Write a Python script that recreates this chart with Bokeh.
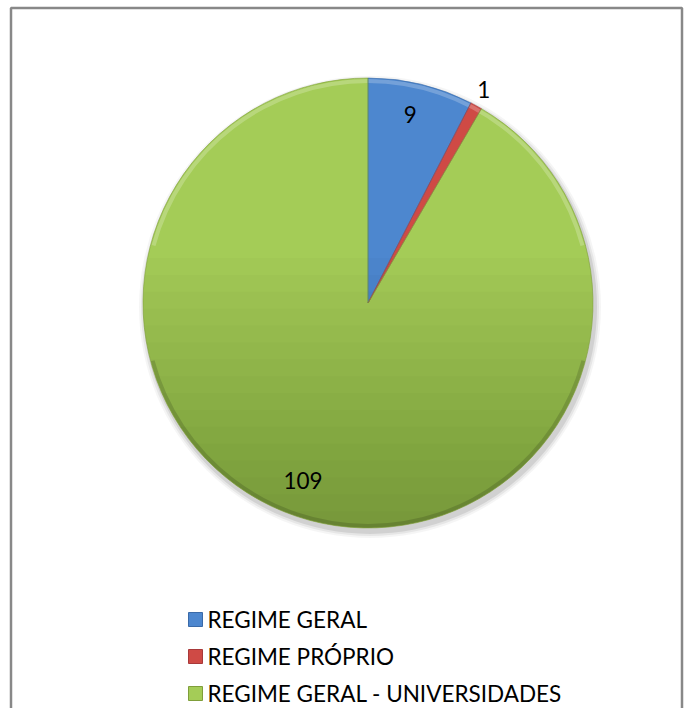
import numpy as np
from bokeh.plotting import figure
from bokeh.models import Range1d, ColumnDataSource
from bokeh.core.properties import value
from bokeh.embed import file_html
from bokeh.resources import INLINE

categories = ["REGIME GERAL", "REGIME PRÓPRIO", "REGIME GERAL - UNIVERSIDADES"]
values = [9, 1, 109]
colors = ["#4D87CF", "#CF4A45", "#A4CC57"]
edge_colors = ["#3A6AA8", "#A8393A", "#7F9E3A"]

# label placement style (fraction of radius, angle tweak in degrees)
label_radius_factor = [0.86, 1.08, 0.84]
label_angle_tweak = [1.0, 0.3, -5.0]

W, H = 686, 708
FONT = "Lato"
p = figure(width=W, height=H, output_backend="svg", toolbar_location=None,
           x_range=Range1d(0, W), y_range=Range1d(0, H),
           min_border=0, outline_line_color=None)
p.axis.visible = False
p.grid.visible = False
p.background_fill_color = "white"

# chart-area border (left, top, right; bottom lies below the window)
p.line(x=[10.5, 10.5, 681.5, 681.5], y=[-10, H - 7.5, H - 7.5, -10],
       line_color="#888888", line_width=2.5)

cx, cy, r = 367.5, H - 302.5, 225

vals = np.array(values, dtype=float)
frac = vals / vals.sum()
ends = np.pi / 2 - 2 * np.pi * np.cumsum(frac)
starts = np.concatenate([[np.pi / 2], ends[:-1]])

# soft shadow
for dr, a in [(6, 0.04), (4, 0.06), (2, 0.09)]:
    p.circle(x=cx + 2, y=cy - 4, radius=r + dr, fill_color="#000000",
             fill_alpha=a, line_color=None)

src = ColumnDataSource(dict(start=ends, end=starts, color=colors, edge=edge_colors))
p.wedge(x=cx, y=cy, radius=r, start_angle="start", end_angle="end",
        fill_color="color", line_color=None, source=src)

# vertical shading: darker toward the bottom
n = 16
for k in range(n):
    y0 = cy + 0.2 * r - (1.2 * r) * k / n
    t0 = np.arcsin(np.clip((y0 - cy) / r, -1, 1))
    ang = np.linspace(np.pi - t0, 2 * np.pi + t0, 80)
    xs = cx + r * np.cos(ang)
    ys = cy + r * np.sin(ang)
    p.patch(x=xs, y=ys, fill_color="#000000", fill_alpha=0.015, line_color=None)

# bevel: light rim on top, dark rim at bottom
p.annular_wedge(x=cx, y=cy, inner_radius=r - 5, outer_radius=r - 1,
                start_angle=np.radians(15), end_angle=np.radians(165),
                fill_color="#ffffff", fill_alpha=0.22, line_color=None)
p.annular_wedge(x=cx, y=cy, inner_radius=r - 4, outer_radius=r,
                start_angle=np.radians(195), end_angle=np.radians(345),
                fill_color="#000000", fill_alpha=0.14, line_color=None)
p.wedge(x=cx, y=cy, radius=r, start_angle="start", end_angle="end",
        fill_color=None, line_color="edge", line_alpha=0.6, line_width=1, source=src)

mid = (starts + ends) / 2 + np.radians(label_angle_tweak)
rf = np.array(label_radius_factor)
lx = cx + rf * r * np.cos(mid)
ly = cy + rf * r * np.sin(mid)
p.text(x=lx, y=ly, text=[str(v) for v in values], text_align="center",
       text_baseline="middle", text_font=value(FONT), text_font_size="22.5px",
       text_color="#000000")

# legend
leg_x, leg_top, leg_dy = 195, H - 619, 37
ys = [leg_top - i * leg_dy for i in range(len(categories))]
p.scatter(x=[leg_x] * 3, y=ys, marker="square", size=14, fill_color=colors,
          line_color=edge_colors, line_width=1)
p.text(x=[leg_x + 12] * 3, y=ys, text=categories, text_align="left",
       text_baseline="middle", text_font=value(FONT), text_font_size="22.5px",
       text_color="#000000")

open("out.html", "w").write(file_html(p, INLINE))
